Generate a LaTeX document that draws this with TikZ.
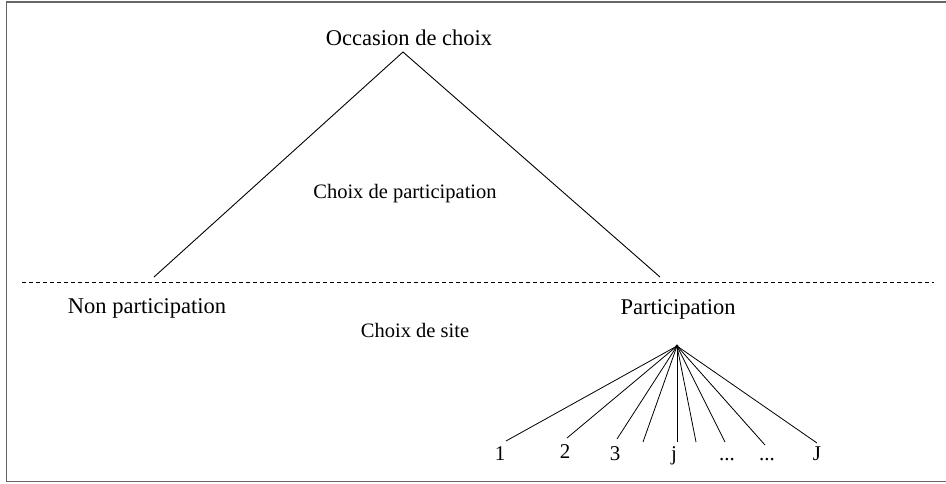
\documentclass[tikz,border=0pt]{standalone}
\usepackage{fontspec}
\setmainfont{Liberation Serif}
\begin{document}
\begin{tikzpicture}[x=1pt,y=-1pt,
  big/.style={inner sep=0pt,anchor=base,font=\fontsize{22.5}{25}\selectfont},
  mid/.style={inner sep=0pt,anchor=base,font=\fontsize{20.5}{23}\selectfont},
  num/.style={inner sep=0pt,anchor=base,font=\fontsize{21}{23}\selectfont},
  edge/.style={line width=0.9pt},
  frame/.style={draw=black!60,line width=1.4pt}]
\useasboundingbox (0,0) rectangle (946,483);
\draw[frame] (960,2) -- (6.5,2) -- (6.5,481.5) -- (960,481.5);
\node[big] (occ) at (409,45) {Occasion de choix};
\node[mid] (cp) at (405,198) {Choix de participation};
\node[big] (np) at (147,313) {Non participation};
\node[big] (p) at (678,314) {Participation};
\node[mid] (cs) at (415,337) {Choix de site};
\coordinate (top) at (403,52);
\coordinate (L) at (154,277);
\coordinate (R) at (660,277);
\draw[edge] (L) -- (top) -- (R);
\coordinate (d1) at (22,282);
\coordinate (d2) at (934,282);
\draw[dash pattern=on 4pt off 3pt,line width=0.8pt] (d1) -- (d2);
\coordinate (ap) at (677,346);
\fill (ap) circle (1.6pt);
\foreach \n/\x/\y in {a/506/441,b/567/438,c/617/439,d/643/442,e/677/442,f/696/442,g/725/442,h/765/445,i/817/443}
  \coordinate (\n) at (\x,\y);
\foreach \n in {a,b,c,d,e,f,g,h,i}
  \draw[line width=0.8pt] (ap) -- (\n);
\node[num] (n1) at (500,460) {1};
\node[num] (n2) at (565,458) {2};
\node[num] (n3) at (615,460) {3};
\node[num] (nj) at (674,460) {j};
\node[num] (nd1) at (727,460) {...};
\node[num] (nd2) at (767,460) {...};
\node[num] (nJ) at (817,460) {J};
\end{tikzpicture}
\end{document}
